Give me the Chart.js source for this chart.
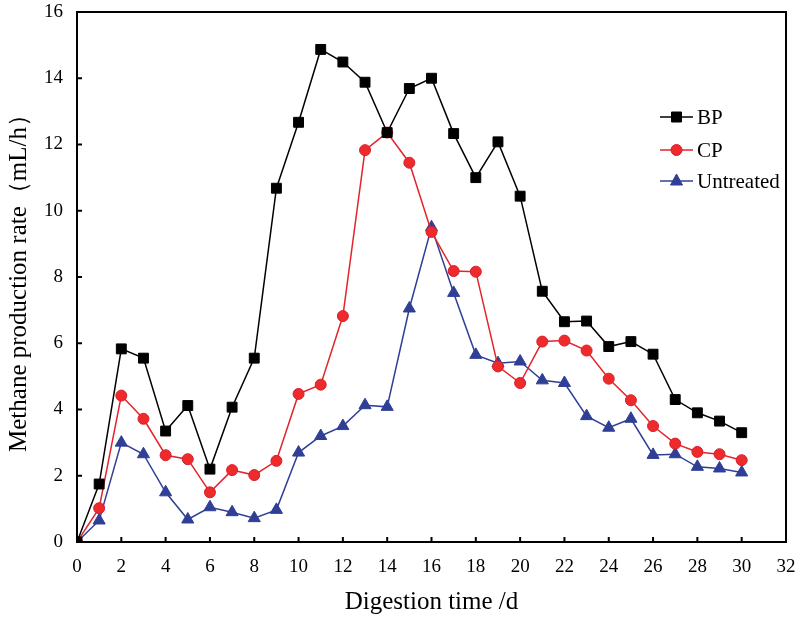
<!DOCTYPE html>
<html>
<head>
<meta charset="utf-8">
<script src="https://cdn.jsdelivr.net/npm/chart.js@4"></script>
<style>
  body { margin: 0; background: #fff; }
  #wrap { width: 800px; height: 617px; }
</style>
</head>
<body>
<div id="wrap"><canvas id="myChart" width="800" height="617"></canvas></div>
<script>
const dias = [0,1,2,3,4,5,6,7,8,9,10,11,12,13,14,15,16,17,18,19,20,21,22,23,24,25,26,27,28,29,30];
const bp = [0,1.75,5.83,5.55,3.35,4.12,2.2,4.07,5.55,10.68,12.67,14.87,14.49,13.88,12.36,13.69,14.0,12.33,11.0,12.08,10.44,7.57,6.65,6.67,5.9,6.05,5.67,4.3,3.9,3.65,3.3];
const cp = [0,1.02,4.42,3.72,2.62,2.5,1.5,2.17,2.02,2.45,4.47,4.75,6.82,11.83,12.36,11.45,9.36,8.18,8.16,5.3,4.8,6.05,6.08,5.78,4.93,4.28,3.5,2.97,2.72,2.65,2.47];
const untreated = [0,0.65,3.0,2.65,1.5,0.68,1.05,0.9,0.72,0.97,2.7,3.2,3.5,4.13,4.08,7.05,9.5,7.52,5.65,5.4,5.45,4.88,4.8,3.8,3.45,3.72,2.63,2.65,2.27,2.22,2.1];
const xTicks = [0,2,4,6,8,10,12,14,16,18,20,22,24,26,28,30,32];
const yTicks = [0,2,4,6,8,10,12,14,16];
const serie = ['BP', 'CP', 'Untreated'];

const fuente = "'Liberation Serif', 'Times New Roman', serif";

function puntos(arr) {
    return arr.map((v, i) => ({ x: dias[i], y: v }));
}

// marco, marcas hacia adentro, etiquetas y leyenda
const marcoPlugin = {
    id: 'marco',
    afterDraw(chart) {
        const ctx = chart.ctx;
        const a = chart.chartArea;
        const sx = chart.scales.x, sy = chart.scales.y;
        ctx.save();
        ctx.strokeStyle = '#000';
        ctx.lineWidth = 2;
        ctx.strokeRect(a.left, a.top, a.right - a.left, a.bottom - a.top);
        ctx.beginPath();
        xTicks.forEach(t => {
            const px = sx.getPixelForValue(t);
            ctx.moveTo(px, a.bottom);
            ctx.lineTo(px, a.bottom - 5);
        });
        yTicks.forEach(t => {
            const py = sy.getPixelForValue(t);
            ctx.moveTo(a.left, py);
            ctx.lineTo(a.left + 5, py);
        });
        ctx.stroke();

        ctx.fillStyle = '#000';
        ctx.font = '19px ' + fuente;
        ctx.textAlign = 'center';
        ctx.textBaseline = 'middle';
        xTicks.forEach(t => {
            ctx.fillText(String(t), sx.getPixelForValue(t), a.bottom + 25);
        });
        ctx.textAlign = 'right';
        yTicks.forEach(t => {
            ctx.fillText(String(t), a.left - 14, sy.getPixelForValue(t));
        });

        // leyenda dentro del area
        const lx = 660, ly = [117, 150, 181];
        chart.data.datasets.forEach((ds, i) => {
            const y = ly[i];
            ctx.strokeStyle = ds.borderColor;
            ctx.lineWidth = 1.5;
            ctx.beginPath();
            ctx.moveTo(lx, y);
            ctx.lineTo(lx + 33, y);
            ctx.stroke();
            ctx.fillStyle = ds.pointBackgroundColor;
            ctx.strokeStyle = ds.pointBorderColor;
            ctx.lineWidth = 1;
            const cx = lx + 16.5;
            ctx.beginPath();
            if (ds.pointStyle === 'rect') {
                ctx.rect(cx - 5, y - 5, 10, 10);
            } else if (ds.pointStyle === 'circle') {
                ctx.arc(cx, y, 5.5, 0, Math.PI * 2);
            } else {
                ctx.moveTo(cx, y - 7);
                ctx.lineTo(cx + 6, y + 4);
                ctx.lineTo(cx - 6, y + 4);
                ctx.closePath();
            }
            ctx.fill();
            ctx.stroke();
            ctx.fillStyle = '#000';
            ctx.font = '21px ' + fuente;
            ctx.textBaseline = 'middle';
            ctx.textAlign = 'left';
            ctx.fillText(serie[i], lx + 37, y + 1);
        });
        ctx.restore();
    }
};

const ctx = document.getElementById('myChart').getContext('2d');
new Chart(ctx, {
    type: 'line',
    data: {
        datasets: [
            {
                label: serie[0], data: puntos(bp),
                borderColor: '#000', backgroundColor: '#000',
                pointBackgroundColor: '#000', pointBorderColor: '#000',
                pointStyle: 'rect', pointRadius: 7, borderWidth: 1.5, pointBorderWidth: 1
            },
            {
                label: serie[1], data: puntos(cp),
                borderColor: '#e3242b', backgroundColor: '#e3242b',
                pointBackgroundColor: '#ee2a2a', pointBorderColor: '#d42030',
                pointStyle: 'circle', pointRadius: 5.5, borderWidth: 1.5, pointBorderWidth: 1
            },
            {
                label: serie[2], data: puntos(untreated),
                borderColor: '#2f3f96', backgroundColor: '#2f3f96',
                pointBackgroundColor: '#2f3f96', pointBorderColor: '#2f3f96',
                pointStyle: 'triangle', pointRadius: 7, borderWidth: 1.5, pointBorderWidth: 1
            }
        ]
    },
    options: {
        responsive: false,
        animation: false,
        layout: { padding: { top: 12, right: 14, left: 0, bottom: 0 } },
        plugins: {
            legend: { display: false },
            tooltip: { enabled: false }
        },
        scales: {
            x: {
                type: 'linear', min: 0, max: 32,
                afterBuildTicks: s => { s.ticks = xTicks.map(v => ({ value: v })); },
                afterFit: s => { s.height = 75; },
                grid: { display: false, drawTicks: false },
                border: { display: false },
                ticks: { display: false },
                title: {
                    display: true, text: 'Digestion time /d', color: '#000',
                    font: { family: fuente, size: 25 }, padding: { top: 2, bottom: 0 }
                }
            },
            y: {
                min: 0, max: 16,
                afterBuildTicks: s => { s.ticks = yTicks.map(v => ({ value: v })); },
                afterFit: s => { s.width = 77; },
                grid: { display: false, drawTicks: false },
                border: { display: false },
                ticks: { display: false },
                title: {
                    display: true, text: 'Methane production rate（mL/h）', color: '#000',
                    font: { family: fuente, size: 25 }, padding: { top: 4, bottom: 0 }
                }
            }
        }
    },
    plugins: [marcoPlugin]
});
</script>
</body>
</html>
